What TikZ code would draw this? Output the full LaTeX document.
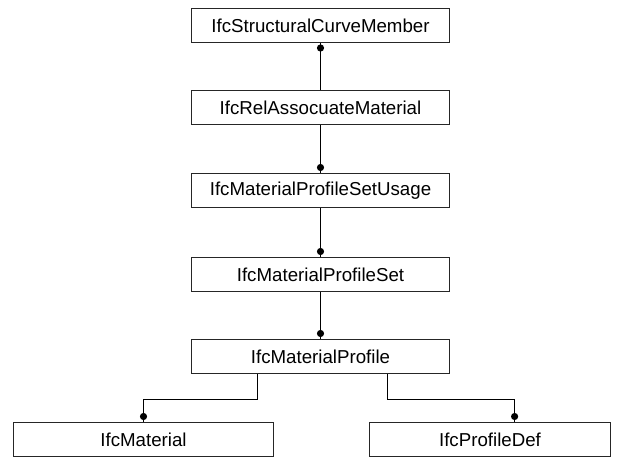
\documentclass[tikz,border=0pt]{standalone}
\usepackage{fontspec}
\setmainfont{Liberation Sans}
\usetikzlibrary{calc}
\begin{document}
\begin{tikzpicture}[x=1pt,y=-1pt,
  box/.style={draw=black!85,line width=1pt,fill=white,minimum height=34pt,inner sep=0pt,
    font=\fontsize{18.7}{22}\selectfont},
  conn/.style={draw=black,line width=1pt},
  dotmark/.style={fill=black}]
\useasboundingbox[fill=white] (0,0) rectangle (619,457);
\node[box,minimum width=258pt] (b1) at (320.5,25.5) {IfcStructuralCurveMember};
\node[box,minimum width=258pt] (b2) at (320.5,107.5) {IfcRelAssocuateMaterial};
\node[box,minimum width=258pt] (b3) at (320.5,190.5) {IfcMaterialProfileSetUsage};
\node[box,minimum width=258pt] (b4) at (320.5,274.5) {IfcMaterialProfileSet};
\node[box,minimum width=258pt] (b5) at (320.5,356.5) {IfcMaterialProfile};
\node[box,minimum width=260pt] (b6) at (143.5,439.5) {IfcMaterial};
\node[box,minimum width=241pt] (b7) at (490,439.5) {IfcProfileDef};

\draw[conn] (b1.south) -- (b2.north);
\fill[dotmark] ([yshift=-5pt]b1.south) circle (3.6pt);

\draw[conn] (b2.south) -- (b3.north);
\fill[dotmark] ([yshift=5.5pt]b3.north) circle (3.6pt);

\draw[conn] (b3.south) -- (b4.north);
\fill[dotmark] ([yshift=5.5pt]b4.north) circle (3.6pt);

\draw[conn] (b4.south) -- (b5.north);
\fill[dotmark] ([yshift=5.5pt]b5.north) circle (3.6pt);

\coordinate (l1) at ($(b5.south west)!0.2558!(b5.south east)$);
\coordinate (r1) at ($(b5.south west)!0.7597!(b5.south east)$);
\coordinate (l2) at ($(b6.north west)!0.5!(b6.north east)$);
\coordinate (r2) at ($(b7.north west)!0.6017!(b7.north east)$);

\draw[conn] (l1) -- ++(0,25) -| (l2);
\fill[dotmark] ([yshift=5.5pt]l2) circle (3.6pt);
\draw[conn] (r1) -- ++(0,25) -| (r2);
\fill[dotmark] ([yshift=5.5pt]r2) circle (3.6pt);
\end{tikzpicture}
\end{document}
